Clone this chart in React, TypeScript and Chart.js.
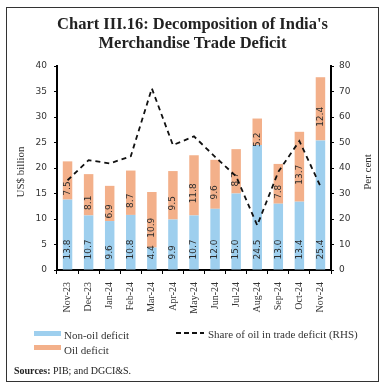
import React, { useEffect, useRef } from "react";
import { Chart, registerables } from "chart.js";

Chart.register(...registerables);

const categories = ["Nov-23", "Dec-23", "Jan-24", "Feb-24", "Mar-24", "Apr-24", "May-24", "Jun-24", "Jul-24", "Aug-24", "Sep-24", "Oct-24", "Nov-24"];
const nonOilDeficit = [13.8, 10.7, 9.6, 10.8, 4.4, 9.9, 10.7, 12.0, 15.0, 24.5, 13.0, 13.4, 25.4];
const oilDeficit = [7.5, 8.1, 6.9, 8.7, 10.9, 9.5, 11.8, 9.6, 8.7, 5.2, 7.8, 13.7, 12.4];
const oilShare = [35.2, 43.1, 41.8, 44.6, 71.2, 49.0, 52.4, 44.4, 36.7, 17.5, 38.5, 50.6, 32.8];

const leftMin = 0;
const leftMax = 40;
const leftStep = 5;
const rightMin = 0;
const rightMax = 80;
const rightStep = 10;

const BLUE = "#9ECFEE";
const ORANGE = "#F3B08A";
const SANS = "'DejaVu Sans', Verdana, sans-serif";
const SERIF = "'Liberation Serif', 'Times New Roman', serif";

const barLabelPlugin = {
  id: "barLabels",
  beforeDatasetDraw(chart: any, args: any) {
    if (args.index !== 2) return;
    const ctx = chart.ctx;
    ctx.save();
    ctx.font = `9px ${SANS}`;
    ctx.fillStyle = "#2b2b2b";
    ctx.textBaseline = "middle";
    [0, 1].forEach((di) => {
      const meta = chart.getDatasetMeta(di);
      const data = chart.data.datasets[di].data as number[];
      meta.data.forEach((el: any, i: number) => {
        const p = el.getProps(["x", "y", "base"], true);
        const text = Number(data[i]).toFixed(1);
        ctx.save();
        if (di === 0) {
          ctx.translate(p.x, p.base - 10);
          ctx.rotate(-Math.PI / 2);
          ctx.textAlign = "left";
        } else {
          ctx.translate(p.x, (p.y + p.base) / 2 + 8);
          ctx.rotate(-Math.PI / 2);
          ctx.textAlign = "center";
        }
        ctx.fillText(text, 0, 0);
        ctx.restore();
      });
    });
    ctx.restore();
  },
};

function ChartCanvas() {
  const ref = useRef<HTMLCanvasElement | null>(null);
  useEffect(() => {
    if (!ref.current) return;
    const chart = new Chart(ref.current, {
      type: "bar",
      data: {
        labels: categories,
        datasets: [
          {
            type: "bar",
            label: "Non-oil deficit",
            data: nonOilDeficit,
            backgroundColor: BLUE,
            borderWidth: 0,
            yAxisID: "y",
            barPercentage: 0.45,
            categoryPercentage: 1,
            order: 1,
          },
          {
            type: "bar",
            label: "Oil deficit",
            data: oilDeficit,
            backgroundColor: ORANGE,
            borderWidth: 0,
            yAxisID: "y",
            barPercentage: 0.45,
            categoryPercentage: 1,
            order: 1,
          },
          {
            type: "line",
            label: "Share of oil in trade deficit (RHS)",
            data: oilShare,
            borderColor: "#111",
            borderWidth: 1.8,
            borderDash: [5, 4],
            pointRadius: 0,
            tension: 0,
            fill: false,
            yAxisID: "y2",
            order: 0,
          } as any,
        ],
      },
      options: {
        animation: false,
        responsive: false,
        devicePixelRatio: 1,
        layout: { padding: { top: 66, bottom: 68, left: 0, right: 0 } },
        plugins: { legend: { display: false }, tooltip: { enabled: false }, title: { display: false } },
        scales: {
          x: {
            stacked: true,
            offset: true,
            grid: { offset: true, drawOnChartArea: false, drawTicks: true, tickLength: 4, color: "#000", lineWidth: 1 },
            border: { display: true, color: "#000", width: 2 },
            ticks: {
              autoSkip: false,
              minRotation: 90,
              maxRotation: 90,
              padding: 8,
              color: "#333",
              font: { family: SERIF, size: 10 },
            },
            afterFit: (s: any) => {
              s.height = 50;
            },
          },
          y: {
            stacked: true,
            position: "left",
            min: leftMin,
            max: leftMax,
            ticks: { stepSize: leftStep, padding: 7, color: "#333", font: { family: SANS, size: 9 } },
            grid: { drawOnChartArea: false, drawTicks: true, tickLength: 3, color: "#000", lineWidth: 1 },
            border: { display: true, color: "#000", width: 2 },
            afterFit: (s: any) => {
              s.width = 57;
            },
          },
          y2: {
            position: "right",
            min: rightMin,
            max: rightMax,
            ticks: { stepSize: rightStep, padding: 5, color: "#333", font: { family: SANS, size: 9 } },
            grid: { drawOnChartArea: false, drawTicks: true, tickLength: 3, color: "#000", lineWidth: 1 },
            border: { display: true, color: "#000", width: 2 },
            afterFit: (s: any) => {
              s.width = 54;
            },
          },
        },
      } as any,
      plugins: [barLabelPlugin],
    });
    return () => chart.destroy();
  }, []);
  return <canvas ref={ref} width={385} height={388} style={{ position: "absolute", left: 0, top: 0 }} />;
}

const abs = (s: React.CSSProperties): React.CSSProperties => ({ position: "absolute", whiteSpace: "nowrap", ...s });

export default function App() {
  return (
    <div style={{ position: "absolute", left: 0, top: 0, width: 385, height: 388, background: "#fff", overflow: "hidden" }}>
      <ChartCanvas />
      <div style={abs({ left: 6, top: 7, width: 373, height: 375, border: "1.5px solid #333", boxSizing: "border-box" })} />
      <div style={abs({ left: 0, width: 385, top: 14, height: 20, lineHeight: "20px", textAlign: "center", fontFamily: SERIF, fontWeight: "bold", fontSize: 16.5, color: "#222" })}>
        Chart III.16: Decomposition of India's
      </div>
      <div style={abs({ left: 0, width: 385, top: 33, height: 20, lineHeight: "20px", textAlign: "center", fontFamily: SERIF, fontWeight: "bold", fontSize: 16.5, color: "#222" })}>
        Merchandise Trade Deficit
      </div>
      <div style={abs({ left: 20, top: 172, transform: "translate(-50%, -50%) rotate(-90deg)", fontFamily: SERIF, fontSize: 11, color: "#333" })}>
        US$ billion
      </div>
      <div style={abs({ left: 367, top: 172, transform: "translate(-50%, -50%) rotate(-90deg)", fontFamily: SERIF, fontSize: 11, color: "#333" })}>
        Per cent
      </div>
      <div style={abs({ left: 34, top: 331, width: 27, height: 5, background: BLUE })} />
      <div style={abs({ left: 64, top: 327, height: 16, lineHeight: "16px", fontFamily: SERIF, fontSize: 11, color: "#333" })}>Non-oil deficit</div>
      <div style={abs({ left: 34, top: 345, width: 27, height: 5, background: ORANGE })} />
      <div style={abs({ left: 64, top: 342, height: 16, lineHeight: "16px", fontFamily: SERIF, fontSize: 11, color: "#333" })}>Oil deficit</div>
      <svg style={{ position: "absolute", left: 176, top: 330 }} width={28} height={6}>
        <line x1={0} y1={3} x2={28} y2={3} stroke="#111" strokeWidth={1.8} strokeDasharray="5,3" />
      </svg>
      <div style={abs({ left: 208, top: 326, height: 16, lineHeight: "16px", fontFamily: SERIF, fontSize: 11, color: "#333" })}>
        Share of oil in trade deficit (RHS)
      </div>
      <div style={abs({ left: 14, top: 364, height: 14, lineHeight: "14px", fontFamily: SERIF, fontSize: 10, color: "#222" })}>
        <b>Sources:</b> PIB; and DGCI&amp;S.
      </div>
    </div>
  );
}
